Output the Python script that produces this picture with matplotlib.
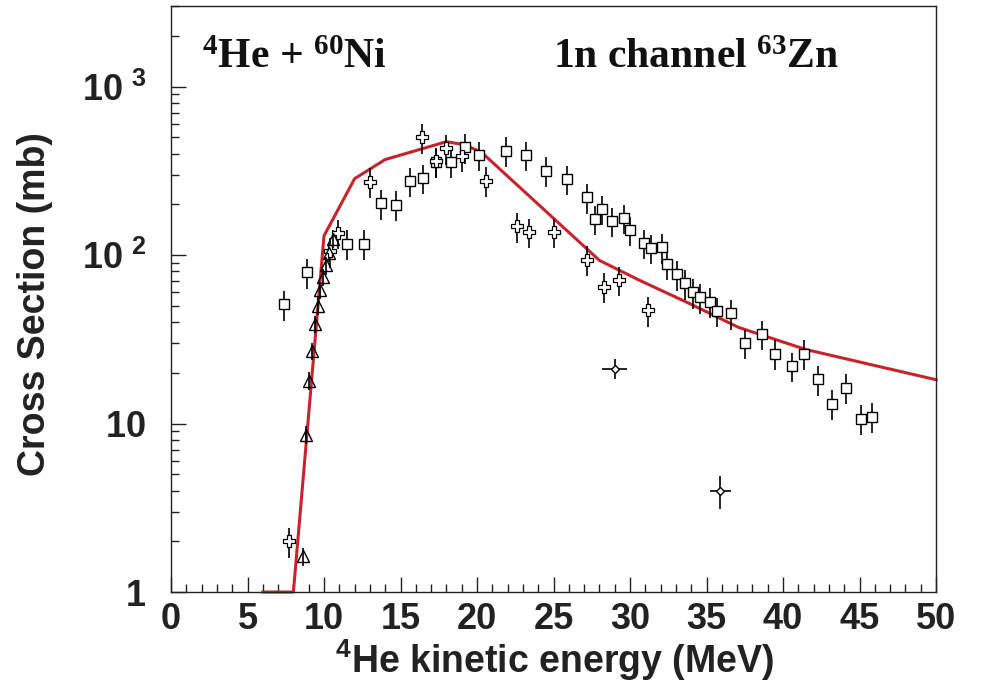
import numpy as np
import matplotlib.pyplot as plt
from matplotlib.ticker import MultipleLocator, FixedLocator, FixedFormatter, LogLocator, NullFormatter

plt.rcParams['font.family'] = ['Liberation Sans', 'DejaVu Sans']
plt.rcParams['font.weight'] = 'bold'
plt.rcParams['mathtext.default'] = 'regular'

# open squares
sq_e = [7.4, 8.9, 11.5, 12.6, 13.7, 14.7, 15.6, 16.5, 17.3, 18.3,
        19.2, 20.1, 21.9, 23.2, 24.5, 25.9, 27.2, 27.7, 28.2, 28.8,
        29.6, 30.0, 30.9, 31.4, 32.1, 32.4, 33.1, 33.6, 34.1, 34.6,
        35.2, 35.7, 36.6, 37.5, 38.6, 39.5, 40.6, 41.4, 42.3, 43.2,
        44.1, 45.1, 45.8]
sq_xs = [51, 79, 117, 117, 203, 199, 275, 287, 356, 356,
         436, 393, 417, 393, 317, 283, 220, 164, 188, 159,
         166, 141, 118, 110, 111, 89, 77, 68, 60, 56,
         53, 46.5, 45, 30, 34, 26, 22, 26, 18.3, 13.1,
         16.3, 10.7, 11.0]
sq_rel = 0.2

# open crosses
cr_e = [7.7, 10.4, 10.9, 13.0, 16.4, 17.3, 18.0, 19.0, 20.6, 22.6,
        23.4, 25.0, 27.2, 28.3, 29.3, 31.2]
cr_xs = [2.0, 105, 135, 273, 500, 360, 430, 389, 277, 148,
         137, 137, 94, 65, 71, 47]
cr_rel = 0.2

# open triangles
tr_e = [8.6, 8.8, 9.0, 9.2, 9.4, 9.6, 9.75, 9.95, 10.15, 10.35, 10.6]
tr_xs = [1.63, 8.6, 18, 27, 39, 50, 62, 74, 87, 103, 125]
tr_rel = 0.12

# diamonds with energy spread
dm_e = [29.0, 35.9]
dm_xs = [21.2, 4.0]
dm_xerr = [0.8, 0.7]
dm_yerr = [2.8, 0.9]

# model curve
mod_e = [6, 8, 10, 12, 14, 18, 19.2, 20.3, 28, 30.6, 33.9, 37.1, 41.5, 45, 50]
mod_xs = [1, 1, 130, 284, 369, 471, 451, 407, 93, 71, 51.5, 37.2, 27.5, 23.2, 18.2]

fig = plt.figure(figsize=(10, 6.9), dpi=100)
ax = fig.add_axes([0.171, 0.142, 0.765, 0.849])

ax.plot(mod_e, mod_xs, color='#c8232c', lw=2.2, zorder=2, clip_on=False)

def rel_err(vals, r):
    v = np.array(vals)
    return v * r

ax.errorbar(sq_e, sq_xs, yerr=rel_err(sq_xs, sq_rel), fmt='s', ms=7.5,
            mfc='white', mec='black', mew=1.0, ecolor='black',
            elinewidth=1.2, capsize=0, zorder=3)
ax.errorbar(cr_e, cr_xs, yerr=rel_err(cr_xs, cr_rel), fmt='P', ms=8,
            mfc='white', mec='black', mew=0.9, ecolor='black',
            elinewidth=1.2, capsize=0, zorder=3)
ax.errorbar(tr_e, tr_xs, yerr=rel_err(tr_xs, tr_rel), fmt='^', ms=8,
            mfc='none', mec='black', mew=1.0, ecolor='black',
            elinewidth=1.2, capsize=0, zorder=3)
ax.errorbar(dm_e, dm_xs, xerr=dm_xerr, yerr=dm_yerr, fmt='D', ms=4,
            mfc='white', mec='black', mew=1.0, ecolor='black',
            elinewidth=1.2, capsize=0, zorder=3)

ax.set_yscale('log')
ax.set_xlim(0, 50)
ax.set_ylim(1, 3000)

ax.xaxis.set_major_locator(MultipleLocator(5))
ax.xaxis.set_minor_locator(MultipleLocator(1))
ax.yaxis.set_major_locator(FixedLocator([1, 10, 100, 1000]))
ax.yaxis.set_major_formatter(FixedFormatter(['1$\\hspace{0.8}$', '10$\\hspace{0.8}$',
                                             '10$^{\\ 2}$', '10$^{\\ 3}$']))
ax.yaxis.set_minor_locator(LogLocator(base=10, subs=np.arange(2, 10)))
ax.yaxis.set_minor_formatter(NullFormatter())

ax.tick_params(axis='both', which='both', direction='in', top=False, right=False,
               width=1.0, colors='#222222')
ax.tick_params(axis='both', which='major', labelsize=26, length=11)
ax.tick_params(axis='both', which='minor', length=5.5)
ax.tick_params(axis='x', which='major', pad=7)
ax.tick_params(axis='y', which='major', pad=18)
for lab in ax.get_xticklabels() + ax.get_yticklabels():
    lab.set_fontweight('bold')
    lab.set_color('#222222')

for sp in ax.spines.values():
    sp.set_linewidth(1.0)
    sp.set_color('#222222')

fig.text(0.035, 0.559, 'Cross Section (mb)', rotation=90, ha='center', va='center',
         fontsize=27, fontweight='bold', color='#222222')
fig.text(0.555, 0.024, '$^{4}$He kinetic energy (MeV)', ha='center', va='baseline',
         fontsize=27, fontweight='bold', color='#222222')

ax.text(0.041, 0.894, '$^{4}$He + $^{60}$Ni', transform=ax.transAxes,
        family=['Liberation Serif', 'DejaVu Serif'], fontsize=30, fontweight='bold',
        ha='left', va='baseline', color='#111111')
ax.text(0.499, 0.894, '1n channel $^{63}$Zn', transform=ax.transAxes,
        family=['Liberation Serif', 'DejaVu Serif'], fontsize=30, fontweight='bold',
        ha='left', va='baseline', color='#111111')

fig.savefig('out.png', dpi=100)
